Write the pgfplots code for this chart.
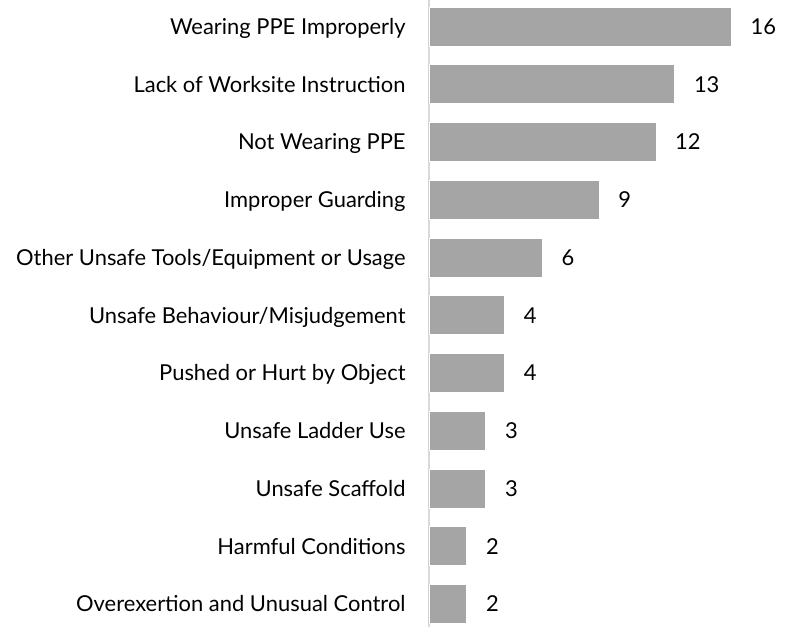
\documentclass[border=0pt]{standalone}
\usepackage{pgfplots}
\pgfplotsset{compat=1.18}
\usepackage{fontspec}
\setmainfont{Lato}
\definecolor{barc}{HTML}{A5A5A5}
\definecolor{axc}{HTML}{D9D9D9}
\begin{document}
\begin{tikzpicture}
\useasboundingbox (-429bp,0) rectangle (365bp,627bp);
\begin{axis}[
  at={(0,0)}, anchor=south west,
  scale only axis, width=365bp, height=627bp,
  xbar, bar width=0.675,
  xmin=0, xmax=19.31,
  ymin=-0.398, ymax=10.459,
  axis x line=none,
  axis y line*=left,
  y axis line style={draw=axc, line width=1.5pt},
  ytick={0,...,10},
  ytick style={draw=none},
  yticklabels={Overexertion and Unusual Control, Harmful Conditions, Unsafe Scaffold, Unsafe Ladder Use, Pushed or Hurt by Object, Unsafe Behaviour/Misjudgement, Other Unsafe Tools/Equipment or Usage, Improper Guarding, Not Wearing PPE, Lack of Worksite Instruction, Wearing PPE Improperly},
  yticklabel style={font=\fontsize{22}{26}\selectfont, inner sep=0pt, anchor=base east, xshift=-19bp, yshift=-7.9bp, text=black},
  /pgf/number format/assume math mode=true,
  nodes near coords,
  every node near coord/.append style={font=\fontsize{22}{26}\selectfont, anchor=base west, inner sep=0pt, xshift=19bp, yshift=-7.9bp, text=black},
  clip=false,
]
\addplot[fill=barc, draw=white, line width=0.6pt] coordinates {
 (2,0) (2,1) (3,2) (3,3) (4,4) (4,5) (6,6) (9,7) (12,8) (13,9) (16,10)
};
\end{axis}
\end{tikzpicture}
\end{document}
